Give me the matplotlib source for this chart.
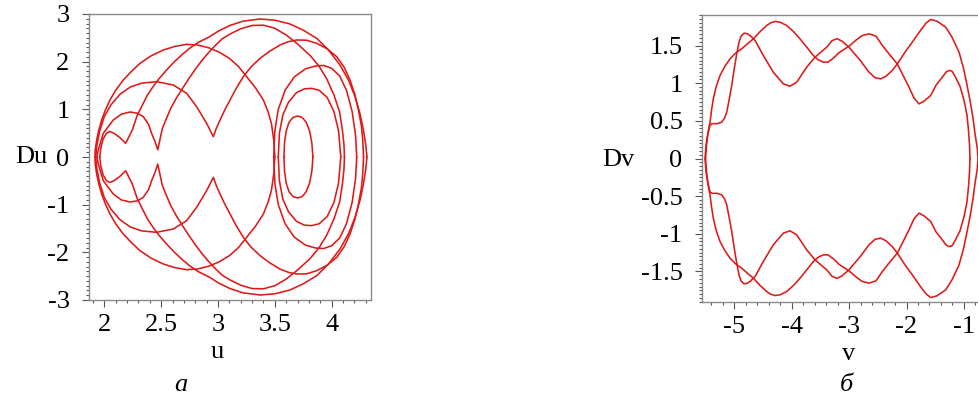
import numpy as np
import matplotlib
matplotlib.use("Agg")
import matplotlib.pyplot as plt
from matplotlib.ticker import MultipleLocator

# ---------------- phase portrait (u, Du): upper-half branches ----------------
# outer branch from the left turning point to the inner right turning point
u_c1 = [1.918, 1.920, 1.933, 1.950, 1.977, 2.010, 2.050, 2.100, 2.167, 2.240, 2.314, 2.410,
        2.519, 2.620, 2.724, 2.820, 2.920, 3.010, 3.100, 3.180, 3.252, 3.330, 3.399, 3.440,
        3.470, 3.490, 3.500]
du_c1 = [0.000, 0.150, 0.357, 0.550, 0.776, 0.990, 1.196, 1.400, 1.615, 1.800, 1.965, 2.120,
         2.245, 2.320, 2.364, 2.350, 2.290, 2.200, 2.070, 1.900, 1.685, 1.450, 1.196, 0.950,
         0.700, 0.360, 0.000]

# small lobe, kink at u=2.19 and the highest arc
u_c2 = [1.960, 1.970, 1.990, 2.020, 2.050, 2.090, 2.140, 2.188, 2.246, 2.290, 2.335, 2.378,
        2.430, 2.481, 2.550, 2.613, 2.680, 2.745, 2.830, 2.921, 3.010, 3.106, 3.220, 3.370,
        3.500, 3.633, 3.750, 3.868, 3.970, 4.073, 4.150, 4.205, 4.250, 4.279, 4.300, 4.310]
du_c2 = [0.000, 0.200, 0.380, 0.500, 0.535, 0.490, 0.400, 0.287, 0.566, 0.874, 1.090, 1.293,
         1.480, 1.642, 1.830, 1.992, 2.140, 2.271, 2.410, 2.516, 2.650, 2.760, 2.850, 2.895,
         2.870, 2.790, 2.660, 2.490, 2.250, 1.930, 1.600, 1.266, 0.900, 0.566, 0.250, 0.000]

# lobe with kink at u=2.47 and the second high arc
u_c3 = [1.935, 1.947, 1.991, 2.079, 2.150, 2.226, 2.290, 2.343, 2.390, 2.416, 2.445, 2.470,
        2.510, 2.545, 2.583, 2.630, 2.686, 2.745, 2.804, 2.860, 2.921, 2.980, 3.038, 3.106,
        3.200, 3.300, 3.400, 3.500, 3.600, 3.700, 3.810, 3.890, 3.956, 4.020, 4.070, 4.095,
        4.108, 4.112]
du_c3 = [0.000, 0.147, 0.497, 0.776, 0.900, 0.944, 0.920, 0.846, 0.680, 0.497, 0.330, 0.150,
         0.594, 0.800, 1.013, 1.220, 1.433, 1.650, 1.852, 2.030, 2.201, 2.350, 2.481, 2.580,
         2.690, 2.760, 2.765, 2.700, 2.560, 2.370, 2.130, 1.900, 1.640, 1.300, 0.940, 0.550,
         0.250, 0.000]

# lobe with kink at u=2.96 and the outer right arc
u_c4 = [1.924, 1.935, 1.960, 2.000, 2.060, 2.140, 2.230, 2.330, 2.460, 2.607, 2.724, 2.812,
        2.900, 2.959, 2.985, 3.018, 3.060, 3.106, 3.160, 3.223, 3.290, 3.370, 3.455, 3.545,
        3.620, 3.692, 3.780, 3.868, 3.960, 4.044, 4.110, 4.161, 4.205, 4.235, 4.260, 4.273,
        4.280]
du_c4 = [0.000, 0.250, 0.550, 0.850, 1.100, 1.320, 1.470, 1.550, 1.580, 1.510, 1.336, 1.056,
         0.706, 0.427, 0.600, 0.776, 0.990, 1.196, 1.440, 1.685, 1.890, 2.070, 2.220, 2.350,
         2.420, 2.455, 2.450, 2.385, 2.270, 2.105, 1.880, 1.615, 1.300, 0.986, 0.670, 0.357,
         0.000]

# nested loops around u=3.7
u_e1 = [3.580, 3.585, 3.600, 3.625, 3.660, 3.700, 3.740, 3.775, 3.805, 3.825, 3.835]
du_e1 = [0.000, 0.300, 0.550, 0.730, 0.830, 0.860, 0.830, 0.730, 0.550, 0.300, 0.000]

u_e2 = [3.530, 3.540, 3.570, 3.620, 3.690, 3.760, 3.824, 3.890, 3.960, 4.020, 4.060, 4.080]
du_e2 = [0.000, 0.500, 0.880, 1.150, 1.350, 1.430, 1.440, 1.400, 1.250, 0.950, 0.550, 0.000]

u_e3 = [3.490, 3.500, 3.530, 3.590, 3.670, 3.770, 3.860, 3.930, 4.000, 4.070, 4.130, 4.180,
        4.210, 4.220]
du_e3 = [0.000, 0.550, 1.000, 1.400, 1.680, 1.850, 1.910, 1.920, 1.860, 1.700, 1.400, 0.950,
         0.450, 0.000]

u_arcs = [u_c1, u_c2, u_c3, u_c4, u_e1, u_e2, u_e3]
du_arcs = [du_c1, du_c2, du_c3, du_c4, du_e1, du_e2, du_e3]

# ---------------- phase portrait (v, Dv): upper-half branches ----------------
v_a = [-5.502, -5.484, -5.458, -5.423, -5.389, -5.301, -5.220, -5.171, -5.132, -5.092,
       -5.045, -5.005, -4.962, -4.918, -4.883, -4.831, -4.779, -4.726, -4.639, -4.495,
       -4.321, -4.146, -4.030, -3.913, -3.739, -3.594, -3.390, -3.298, -3.211, -3.124,
       -3.002, -2.810, -2.653, -2.549, -2.449, -2.357, -2.247, -2.160, -2.026, -1.899,
       -1.765, -1.660, -1.578, -1.469, -1.317, -1.207, -1.085, -1.007, -0.951, -0.894,
       -0.841, -0.807, -0.767, -0.754]
dv_a = [0.000, 0.177, 0.336, 0.442, 0.462, 0.462, 0.482, 0.535, 0.615, 0.774,
        0.969, 1.173, 1.372, 1.545, 1.624, 1.664, 1.657, 1.633, 1.567, 1.368,
        1.146, 0.991, 0.960, 1.013, 1.212, 1.345, 1.478, 1.564, 1.591, 1.558,
        1.478, 1.305, 1.146, 1.073, 1.057, 1.093, 1.169, 1.256, 1.412, 1.545,
        1.691, 1.797, 1.846, 1.823, 1.744, 1.611, 1.412, 1.199, 0.996, 0.774,
        0.535, 0.332, 0.137, 0.000]

v_b = [-5.510, -5.493, -5.458, -5.423, -5.397, -5.366, -5.319, -5.249, -5.162, -5.075,
       -4.979, -4.871, -4.779, -4.669, -4.552, -4.436, -4.361, -4.291, -4.204, -4.087,
       -3.977, -3.855, -3.751, -3.624, -3.542, -3.449, -3.368, -3.263, -3.176, -3.002,
       -2.880, -2.775, -2.653, -2.531, -2.422, -2.287, -2.160, -2.061, -1.956, -1.869,
       -1.782, -1.695, -1.578, -1.486, -1.376, -1.312, -1.260, -1.207, -1.155, -1.068,
       -0.998, -0.946, -0.920, -0.902, -0.894]
dv_b = [0.000, 0.177, 0.349, 0.482, 0.641, 0.792, 0.947, 1.102, 1.226, 1.323,
        1.398, 1.456, 1.518, 1.588, 1.684, 1.766, 1.803, 1.819, 1.810, 1.766,
        1.691, 1.588, 1.491, 1.368, 1.312, 1.279, 1.279, 1.339, 1.405, 1.491,
        1.571, 1.631, 1.655, 1.624, 1.501, 1.372, 1.256, 1.106, 0.947, 0.801,
        0.725, 0.761, 0.837, 0.973, 1.080, 1.146, 1.169, 1.159, 1.093, 0.960,
        0.774, 0.575, 0.376, 0.177, 0.000]

# ---------------- styling ----------------
plt.rcParams['font.family'] = ['Liberation Serif', 'DejaVu Serif']
LINE = '#e01818'
AXC = '#8a8a8a'
TICK_FS = 19

fig = plt.figure(figsize=(9.79, 3.98), dpi=100)

ax1 = fig.add_axes([89 / 979, 1 - 300 / 398, 282 / 979, 286 / 398])
ax2 = fig.add_axes([702 / 979, 1 - 302 / 398, 279 / 979, 287 / 398])


def style(ax):
    for side in ['left', 'bottom', 'top', 'right']:
        ax.spines[side].set_color(AXC)
        ax.spines[side].set_linewidth(1.0)
    ax.tick_params(which='both', direction='out', color='#555555', width=0.8,
                   top=False, right=False, labelsize=TICK_FS)
    ax.tick_params(which='major', length=5)
    ax.tick_params(which='minor', length=2.5)
    ax.tick_params(axis='y', which='major', pad=9)
    ax.tick_params(axis='x', which='major', pad=5)


def draw(ax, xs, ys):
    # each branch is drawn together with its mirror image below the axis
    for x, y in zip(xs, ys):
        x = np.asarray(x)
        y = np.asarray(y)
        ax.plot(x, y, color=LINE, lw=1.15, solid_joinstyle='round')
        ax.plot(x, -y, color=LINE, lw=1.15, solid_joinstyle='round')


draw(ax1, u_arcs, du_arcs)
ax1.set_xlim(1.8654, 4.3456)
ax1.set_ylim(-3, 3)
ax1.set_xticks([2, 2.5, 3, 3.5, 4])
ax1.set_xticklabels(['2', '2.5', '3', '3.5', '4'])
ax1.xaxis.set_minor_locator(MultipleLocator(0.1))
ax1.set_yticks([-3, -2, -1, 0, 1, 2, 3])
ax1.set_yticklabels(['-3', '-2', '-1', '0', '1', '2', '3'])
ax1.yaxis.set_minor_locator(MultipleLocator(0.1))
style(ax1)

draw(ax2, [v_a, v_b], [dv_a, dv_b])
ax2.set_xlim(-5.563, -0.702)
ax2.set_ylim(-1.905, 1.905)
ax2.set_xticks([-5, -4, -3, -2, -1])
ax2.set_xticklabels(['-5', '-4', '-3', '-2', '-1'])
ax2.xaxis.set_minor_locator(MultipleLocator(0.2))
ax2.set_yticks([-1.5, -1, -0.5, 0, 0.5, 1, 1.5])
ax2.set_yticklabels(['-1.5', '-1', '-0.5', '0', '0.5', '1', '1.5'])
ax2.yaxis.set_minor_locator(MultipleLocator(0.05))
style(ax2)
ax2.spines['right'].set_visible(False)

# axis titles and panel captions
fig.text(31 / 979, 1 - 157 / 398, 'Du', fontsize=TICK_FS, ha='center', va='center')
fig.text(217 / 979, 1 - 352 / 398, 'u', fontsize=TICK_FS, ha='center', va='center')
fig.text(618 / 979, 1 - 160 / 398, 'Dv', fontsize=TICK_FS, ha='center', va='center')
fig.text(849 / 979, 1 - 354 / 398, 'v', fontsize=TICK_FS, ha='center', va='center')
fig.text(181 / 979, 1 - 385 / 398, 'а', fontsize=TICK_FS, style='italic', ha='center', va='center')
fig.text(846 / 979, 1 - 385 / 398, 'б', fontsize=TICK_FS, style='italic', ha='center', va='center')

fig.savefig('out.png', dpi=100)
